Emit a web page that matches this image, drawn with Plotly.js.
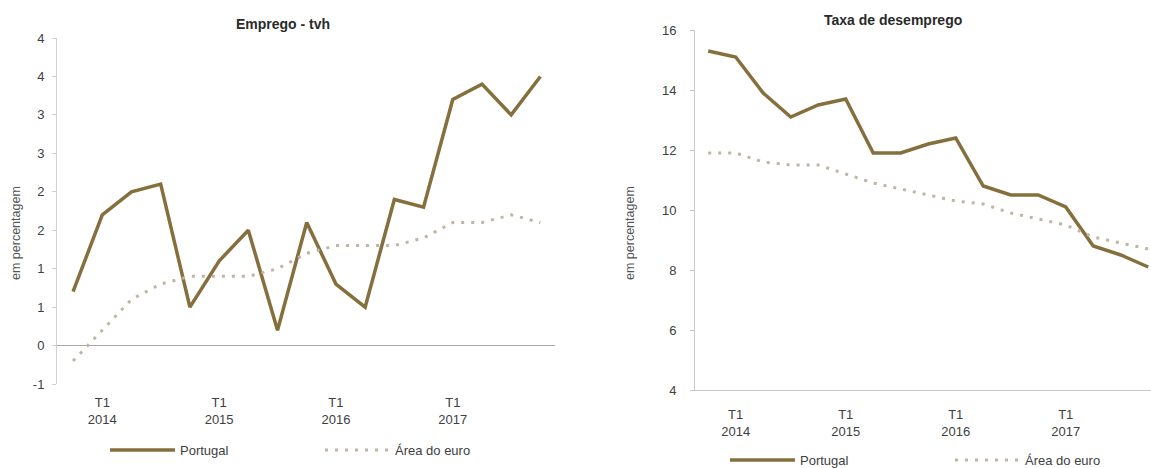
<!DOCTYPE html>
<html>
<head>
<meta charset="utf-8">
<script src="https://cdn.plot.ly/plotly-3.0.1.min.js"></script>
<style>html,body{margin:0;padding:0;background:#fff;}#chart{width:1151px;height:468px;}</style>
</head>
<body>
<div id="chart"></div>
<script>
// Quarters T4 2013 .. T4 2017
const quarters = ["T4 2013","T1 2014","T2 2014","T3 2014","T4 2014","T1 2015","T2 2015","T3 2015","T4 2015",
                  "T1 2016","T2 2016","T3 2016","T4 2016","T1 2017","T2 2017","T3 2017","T4 2017"];
// Emprego - tvh (%)
const empregoPortugal = [0.7, 1.7, 2.0, 2.1, 0.5, 1.1, 1.5, 0.2, 1.6, 0.8, 0.5, 1.9, 1.8, 3.2, 3.4, 3.0, 3.5];
const empregoEuro     = [-0.2, 0.2, 0.6, 0.8, 0.9, 0.9, 0.9, 1.0, 1.2, 1.3, 1.3, 1.3, 1.4, 1.6, 1.6, 1.7, 1.6];
// Taxa de desemprego (%)
const desempregoPortugal = [15.3, 15.1, 13.9, 13.1, 13.5, 13.7, 11.9, 11.9, 12.2, 12.4, 10.8, 10.5, 10.5, 10.1, 8.8, 8.5, 8.1];
const desempregoEuro     = [11.9, 11.9, 11.6, 11.5, 11.5, 11.2, 10.9, 10.7, 10.5, 10.3, 10.2, 9.9, 9.7, 9.5, 9.1, 8.9, 8.7];
// Axis ticks
const xTickQuarters = ["T1 2014","T1 2015","T1 2016","T1 2017"];
const leftYTickVals = [-0.5, 0, 0.5, 1, 1.5, 2, 2.5, 3, 3.5, 4];
const leftYTickText = ["-1","0","1","1","2","2","3","3","4","4"];
const rightYTickVals = [4, 6, 8, 10, 12, 14, 16];
const rightTickMarkPos = [3.5, 7.5, 11.5, 15.5];

const idx = quarters.map((q, i) => i);
const xTickVals = xTickQuarters.map(q => quarters.indexOf(q));
const xTickText = xTickQuarters.map(q => q.replace(" ", "<br>"));

const cPT = "#85703d";
const cEA = "#c0b5a4";
const font = "Liberation Sans, Arial, sans-serif";
const tickFont = {family: font, size: 13, color: "#404040"};
const dotDash = "3px,7px";

const traces = [
  {x: idx, y: empregoPortugal, xaxis: "x", yaxis: "y", name: "Portugal", type: "scatter", mode: "lines",
   line: {color: cPT, width: 3.5}, legend: "legend"},
  {x: idx, y: empregoEuro, xaxis: "x", yaxis: "y", name: "Área do euro", type: "scatter", mode: "lines",
   line: {color: cEA, width: 3, dash: dotDash}, legend: "legend"},
  {x: idx, y: desempregoPortugal, xaxis: "x2", yaxis: "y2", name: "Portugal", type: "scatter", mode: "lines",
   line: {color: cPT, width: 3.5}, legend: "legend2"},
  {x: idx, y: desempregoEuro, xaxis: "x2", yaxis: "y2", name: "Área do euro", type: "scatter", mode: "lines",
   line: {color: cEA, width: 3, dash: dotDash}, legend: "legend2"}
];

const W = 1151, H = 468;
const px = v => v / W, py = v => 1 - v / H;

const layout = {
  width: W, height: H,
  margin: {l: 0, r: 0, t: 0, b: 0, autoexpand: false},
  paper_bgcolor: "#fff", plot_bgcolor: "#fff",
  font: {family: font, color: "#404040"},
  xaxis: {domain: [px(57), px(555)], range: [-0.55, 16.5], tickvals: xTickVals, ticktext: xTickText,
          showgrid: false, zeroline: false, showline: false, ticks: "", tickfont: tickFont, ticklabelstandoff: 9,
          anchor: "y", fixedrange: true},
  yaxis: {domain: [py(384), py(38)], range: [-0.5, 4], tickvals: leftYTickVals, ticktext: leftYTickText,
          showgrid: false, zeroline: true, zerolinecolor: "#a8a8a8", zerolinewidth: 1,
          showline: true, linecolor: "#d0d0d0", linewidth: 1, ticks: "outside", ticklen: 4, tickcolor: "#d0d0d0",
          tickfont: tickFont, ticklabelstandoff: 5, anchor: "x", fixedrange: true},
  xaxis2: {domain: [px(695), 1], range: [-0.48, 16.1], tickvals: xTickVals, ticktext: xTickText,
           showgrid: false, zeroline: false, showline: true, linecolor: "#c8c8c8", linewidth: 1, ticks: "",
           tickfont: tickFont, ticklabelstandoff: 12, anchor: "y2", fixedrange: true},
  xaxis3: {domain: [px(695), 1], range: [-0.48, 16.1], tickvals: rightTickMarkPos, ticktext: rightTickMarkPos.map(() => ""),
           showgrid: false, zeroline: false, showline: false, ticks: "outside", ticklen: 4, tickcolor: "#c8c8c8",
           overlaying: "x2", anchor: "y2", fixedrange: true},
  yaxis2: {domain: [py(390), py(30)], range: [4, 16], tickvals: rightYTickVals,
           showgrid: false, zeroline: false, showline: true, linecolor: "#c8c8c8", linewidth: 1,
           ticks: "outside", ticklen: 4, tickcolor: "#c8c8c8", tickfont: tickFont, ticklabelstandoff: 11,
           anchor: "x2", fixedrange: true},
  showlegend: true,
  legend: {orientation: "h", x: px(105), y: py(450), xanchor: "left", yanchor: "middle",
           entrywidth: 135, entrywidthmode: "pixels", itemwidth: 65, font: {family: font, size: 13, color: "#404040"},
           bgcolor: "rgba(0,0,0,0)"},
  legend2: {orientation: "h", x: px(725), y: py(460), xanchor: "left", yanchor: "middle",
            entrywidth: 145, entrywidthmode: "pixels", itemwidth: 65, font: {family: font, size: 13, color: "#404040"},
            bgcolor: "rgba(0,0,0,0)"},
  annotations: [
    {text: "<b>Emprego - tvh</b>", xref: "paper", yref: "paper", x: px(283), y: py(24), xanchor: "center", yanchor: "middle",
     showarrow: false, font: {family: font, size: 14, color: "#2a2a2a"}},
    {text: "<b>Taxa de desemprego</b>", xref: "paper", yref: "paper", x: px(893), y: py(20), xanchor: "center", yanchor: "middle",
     showarrow: false, font: {family: font, size: 14, color: "#2a2a2a"}},
    {text: "em percentagem", xref: "paper", yref: "paper", x: px(16), y: py(233), xanchor: "center", yanchor: "middle",
     textangle: -90, showarrow: false, font: {family: font, size: 12.5, color: "#555555"}},
    {text: "em percentagem", xref: "paper", yref: "paper", x: px(630), y: py(233), xanchor: "center", yanchor: "middle",
     textangle: -90, showarrow: false, font: {family: font, size: 12.5, color: "#555555"}}
  ]
};

Plotly.newPlot("chart", traces, layout, {displayModeBar: false, staticPlot: true});
</script>
</body>
</html>
